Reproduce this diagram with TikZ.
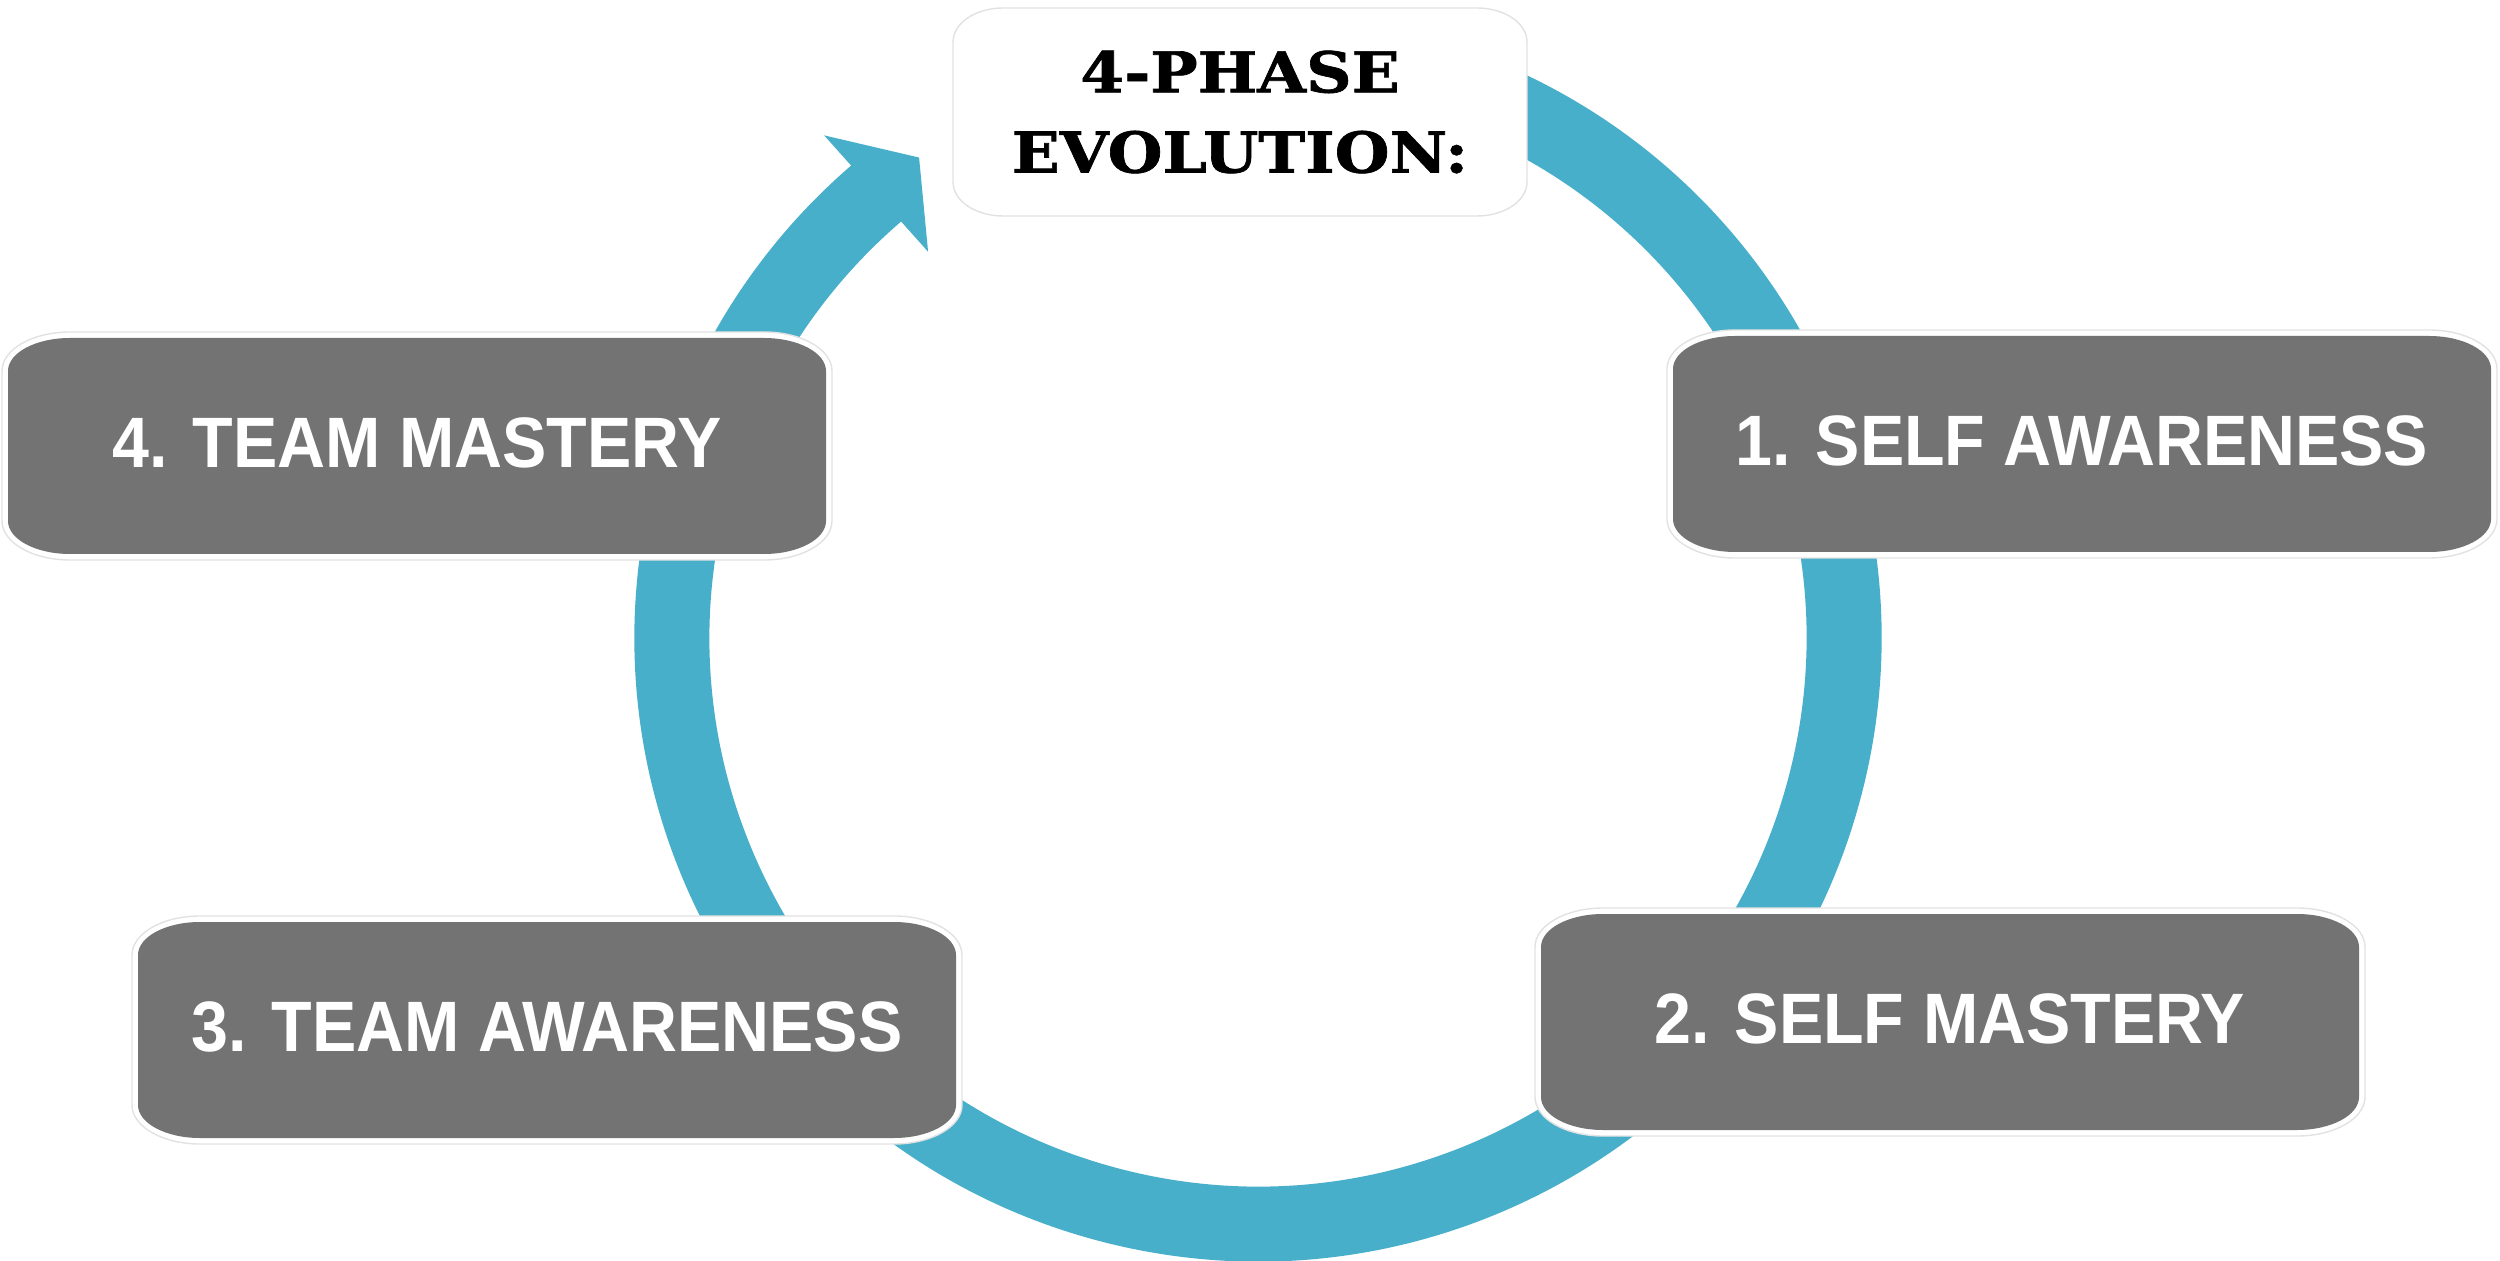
\documentclass[tikz,border=0pt]{standalone}
\usepackage{fontspec}
\newfontfamily\phasefont{Liberation Sans}[FakeStretch=0.93]
\newfontfamily\titlefont{DejaVu Serif}[FakeStretch=1.12, FakeBold=1.2]
\definecolor{ringblue}{HTML}{48AFCB}
\definecolor{boxgray}{HTML}{737373}
\definecolor{rimgray}{HTML}{E2E2E2}
\newcommand{\ovalbox}[6]{%
  \path[#1] ([shift={(-#3+#5,#4)}]#2) -- ([shift={(#3-#5,#4)}]#2)
    arc[start angle=90,end angle=0,x radius=#5,y radius=#6]
    -- ([shift={(#3,-#4+#6)}]#2)
    arc[start angle=0,end angle=-90,x radius=#5,y radius=#6]
    -- ([shift={(-#3+#5,-#4)}]#2)
    arc[start angle=270,end angle=180,x radius=#5,y radius=#6]
    -- ([shift={(-#3,#4-#6)}]#2)
    arc[start angle=180,end angle=90,x radius=#5,y radius=#6]
    -- cycle;}
\begin{document}
\begin{tikzpicture}[x=0.01cm,y=0.01cm]
	\tikzset{ring/.style={draw=ringblue, line width=0.75cm},
		rim/.style={fill=white, draw=rimgray, line width=0.4pt},
		slab/.style={fill=boxgray},
		phase/.style={text=white, font=\phasefont\bfseries\fontsize{20.3}{24}\selectfont, inner sep=0pt, yshift=1pt},
		heading/.style={align=center, font=\titlefont\bfseries\fontsize{16}{22.8}\selectfont, inner sep=0pt}}
	\useasboundingbox (0,0) rectangle (2500,1260);
	\coordinate (hub) at (1258,622);
	\coordinate (top) at (1240,1148);
	\coordinate (s1)  at (2082,816);
	\coordinate (s2)  at (1950,238);
	\coordinate (s3)  at (547,230);
	\coordinate (s4)  at (417,814);
	\draw[ring] ([shift={(75:586)}]hub) arc[start angle=75, end angle=-229.5, radius=586];
	\fill[ringblue] ([shift={(130.8:664)}]hub) -- ([shift={(125.2:588)}]hub) -- ([shift={(130.5:508)}]hub) -- cycle;
	\ovalbox{rim}{top}{287}{104}{50}{34}
	\foreach \s in {s1,s2,s3,s4} {
		\ovalbox{rim}{\s}{415}{114}{68}{39}
		\ovalbox{slab}{\s}{409}{108}{62}{33}
	}
	\node[heading] (title) at (top) {4-PHASE\\EVOLUTION:};
	\node[phase] (p1) at (s1) {1. SELF AWARENESS};
	\node[phase] (p2) at (s2) {2. SELF MASTERY};
	\node[phase] (p3) at (s3) {3. TEAM AWARENESS};
	\node[phase] (p4) at (s4) {4. TEAM MASTERY};
\end{tikzpicture}
\end{document}
